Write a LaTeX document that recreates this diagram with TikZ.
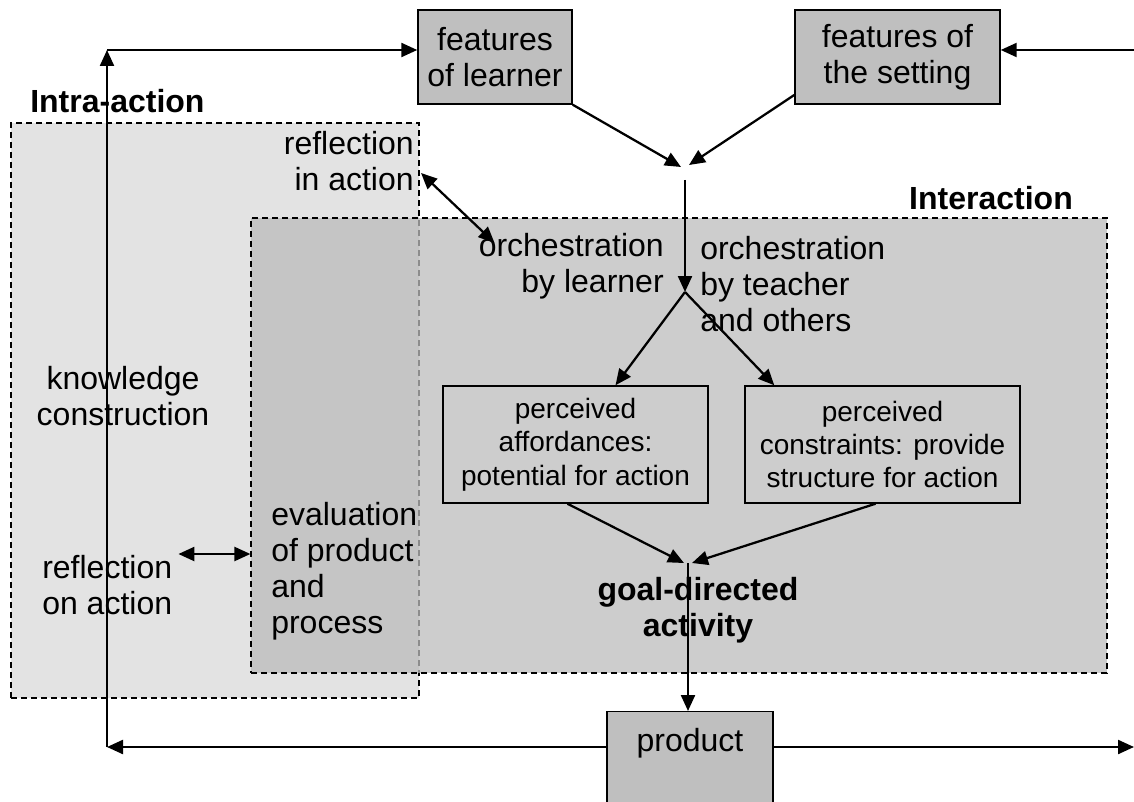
\documentclass[tikz,border=0pt]{standalone}
\usepackage{fontspec}
\setmainfont{Liberation Sans}
\usetikzlibrary{arrows.meta,calc,positioning}

\definecolor{intracol}{gray}{0.89}
\definecolor{intercol}{gray}{0.737}
\definecolor{boxgray}{gray}{0.75}

\begin{document}
\begin{tikzpicture}[
  x=0.75pt, y=-0.75pt,
  font=\fontsize{24}{27}\selectfont,
  >={Triangle[length=12pt,width=10.5pt]},
  featbox/.style={draw=black, line width=1.1pt, fill=boxgray, align=center, inner sep=0pt},
  percbox/.style={draw=black, line width=1.1pt, align=center, inner sep=0pt, font=\fontsize{21}{25}\selectfont},
  region/.style={draw=black, dash pattern=on 4.5pt off 3pt, line width=0.9pt, inner sep=0pt},
  lbl/.style={inner sep=0pt},
  bold/.style={inner sep=0pt, font=\fontsize{24}{27}\selectfont\bfseries},
  arr/.style={->, line width=1.7pt},
  dbl/.style={<->, line width=1.7pt}
]
\useasboundingbox (0,0) rectangle (1134,802);

%% ============ Regions ============
\node[region, fill=intracol, minimum width=306pt, minimum height=431.25pt] (intra) at (215,410.5) {};
\node[region, fill=intercol, fill opacity=0.746, minimum width=642pt, minimum height=341.25pt] (inter) at (679,445.5) {};

%% ============ Boxes ============
\node[featbox, minimum width=115.5pt, minimum height=70.5pt] (learner) at (495,57) {features\\of learner};
\node[featbox, minimum width=153.75pt, minimum height=70.5pt] (setting) at (897.5,57) {features of\\the setting};
\node[percbox, minimum width=198.75pt, minimum height=87.75pt] (afford) at (575.5,444.5) {perceived\\affordances:\\potential for action};
\node[percbox, minimum width=206.25pt, minimum height=87.75pt] (constr) at (882.5,444.5) {perceived\\constraints: provide\\structure for action};
\node[featbox, anchor=north, minimum width=124.5pt, text height=16pt, text depth=52pt, inner ysep=14pt] (product) at (690,711) {product};

%% ============ Labels ============
\node[bold, anchor=west] (intraLbl) at (30,101) {Intra-action};
\node[bold] (interLbl) at (991,198) {Interaction};
\node[lbl, align=right, anchor=east] (reflin) at (414,161) {reflection\\in action};
\node[lbl, align=right, anchor=east] (orchL) at (664,266) {orchestration\\by learner};
\node[lbl, align=left, anchor=west] (orchT) at (700,284) {orchestration\\by teacher\\and others};
\node[lbl, align=center] (knowl) at (123,396) {knowledge\\construction};
\node[lbl, align=left, anchor=west] (evalTxt) at (271,571) {evaluation\\of product\\and\\process};
\node[lbl, align=left, anchor=west] (reflon) at (42,585) {reflection\\on action};
\node[bold, align=center] (goal) at (698,610) {goal-directed\\activity};

%% ============ Flow points ============
\coordinate (merge) at (685,167);
\coordinate (split) at (685,292);
\coordinate (join) at (688,563);
\coordinate (cornerTL) at (107,50);
\coordinate (cornerBL) at (107,747);
\coordinate (farR) at (1134,747);
\coordinate (farRtop) at (1134,50);

%% outer loop round the whole picture
\draw[arr] (cornerBL) -- (cornerTL);
\draw[arr] (cornerTL) -- (cornerTL -| learner.west);
\draw[arr] (farRtop) -- (farRtop -| setting.east);
\draw[arr] (product.west |- cornerBL) -- (cornerBL);
\draw[arr] (product.east |- cornerBL) -- (farR);

%% features -> orchestration -> perceived boxes
\draw[arr] (learner.south east) -- ($(merge)+(-4,0)$);
\draw[arr] ($(setting.west)+(0,38)$) -- ($(merge)+(4,-2)$);
\draw[arr] ($(merge)+(0,13)$) -- (split);
\draw[arr] (split) -- ($(afford.north)+(40,0)$);
\draw[arr] (split) -- ($(constr.north west)+(30,0)$);

%% perceived boxes -> goal-directed activity -> product
\draw[arr] ($(afford.south)+(-8,0)$) -- ($(join)+(-4,0)$);
\draw[arr] ($(constr.south)+(-7,0)$) -- ($(join)+(4,0)$);
\draw[arr] (join) -- (join |- product.north);

%% reflection links
\draw[dbl] ($(reflin.east)+(7,12)$) -- ($(orchL.north west)+(16,10)$);
\draw[dbl] ($(reflon.east)+(6,-31)$) -- ($(inter.west |- reflon.east)+(0,-31)$);

\end{tikzpicture}
\end{document}
